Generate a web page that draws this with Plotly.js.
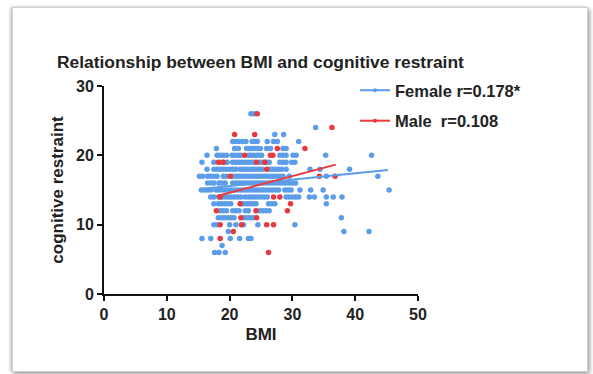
<!DOCTYPE html>
<html><head><meta charset="utf-8">
<script src="https://cdn.plot.ly/plotly-3.0.1.min.js"></script>
<style>
html,body{margin:0;padding:0;background:#fff;width:593px;height:374px;overflow:hidden;}
#card{position:absolute;left:12px;top:7px;width:574px;height:363px;border:1px solid #d0d0d0;box-shadow:2px 2px 4px rgba(0,0,0,0.35), -2px 0 3px rgba(0,0,0,0.2);background:#fff;}
#chart{position:absolute;left:0;top:0;width:593px;height:374px;}
</style></head>
<body>
<div id="card"></div>
<div id="chart"></div>
<script>
// Female points: BMI values grouped by cognitive restraint score
const femaleRows = {
  26: [23.4, 23.9],
  24: [33.7],
  23: [27.2, 28.6],
  22: [20.5, 21.0, 21.5, 22.1, 22.6, 23.6, 24.0, 24.4, 26.0, 27.0, 27.6, 31.0],
  21: [17.9, 20.8, 21.4, 22.7, 23.1, 23.5, 24.0, 24.4, 24.9, 25.9, 26.5, 28.5, 29.0],
  20: [16.4, 18.0, 18.5, 19.0, 19.5, 20.4, 20.9, 21.4, 21.8, 23.0, 23.4, 23.8, 24.3, 24.7, 25.1, 28.0, 28.5, 29.0, 30.1, 30.6, 35.3, 42.6],
  19: [15.6, 17.5, 18.5, 19.0, 19.6, 20.5, 21.0, 21.5, 22.0, 22.5, 23.0, 23.5, 24.0, 24.8, 25.3, 25.8, 26.3, 28.0, 28.5, 29.0, 29.9, 30.4],
  18: [16.4, 17.5, 18.0, 18.5, 19.0, 19.5, 20.0, 20.5, 21.0, 21.7, 22.2, 22.7, 23.2, 23.7, 24.2, 24.7, 25.2, 26.3, 26.8, 27.3, 27.8, 28.3, 29.0, 32.8, 34.4, 39.1],
  17: [15.2, 15.7, 16.5, 17.0, 17.5, 18.0, 19.0, 19.5, 20.5, 21.0, 21.5, 22.0, 22.5, 23.0, 23.5, 24.0, 24.5, 25.0, 25.5, 26.0, 26.5, 27.0, 27.5, 28.0, 28.5, 29.5, 35.4, 43.6],
  16: [16.5, 17.0, 17.5, 18.3, 18.8, 19.3, 20.5, 21.0, 21.5, 22.0, 22.5, 23.0, 23.5, 24.0, 24.5, 25.0, 25.5, 26.0, 26.5, 27.0, 27.5, 28.0, 28.5, 29.0, 29.5, 30.0, 30.5],
  15: [15.5, 16.0, 16.5, 17.0, 17.8, 18.3, 18.8, 19.3, 19.8, 20.3, 20.8, 21.3, 21.8, 22.3, 22.8, 23.3, 23.8, 24.3, 24.8, 25.3, 25.8, 26.3, 26.8, 27.3, 27.8, 28.8, 29.3, 29.8, 31.2, 32.9, 34.9, 45.4],
  14: [17.0, 17.5, 18.3, 18.8, 19.3, 19.8, 20.3, 20.8, 21.3, 21.8, 22.5, 23.0, 23.5, 24.0, 24.5, 25.0, 25.5, 26.0, 29.0, 29.5, 30.0, 30.5, 31.0, 32.7, 33.5, 35.4, 36.5, 37.9],
  13: [17.5, 18.2, 18.7, 19.2, 19.7, 20.2, 21.7, 22.2, 22.7, 23.2, 23.7, 24.2, 26.2, 26.7, 27.2, 35.4],
  12: [18.5, 19.0, 19.5, 20.5, 21.0, 21.5, 22.5, 23.0, 24.8, 25.3, 25.8, 26.3],
  11: [18.2, 18.7, 19.2, 19.7, 20.2, 20.7, 22.3, 22.8, 23.3, 23.8, 37.8],
  10: [17.5, 18.0, 20.0, 21.0, 22.2, 24.5, 30.4],
  9: [19.8, 38.2, 42.2],
  8: [15.6, 17.0, 20.1, 21.6, 23.0, 23.4],
  7: [18.8],
  6: [17.6, 18.3, 19.3]
};
// Male points
const maleRows = {
  26: [24.4],
  24: [36.3],
  23: [20.8, 24.0],
  21: [27.6, 32.0],
  20: [22.4, 26.5, 26.9],
  19: [18.2, 19.0, 24.3, 25.6],
  18: [25.9],
  17: [20.1, 34.3, 36.8],
  14: [18.5, 27.0, 28.0],
  13: [21.7, 29.7],
  12: [17.9, 24.2, 29.2],
  11: [21.8, 24.3],
  10: [18.5, 21.9, 25.9, 27.0],
  9: [20.6],
  8: [18.5],
  6: [26.2]
};
// Regression line end points
const femaleFitX = [15.4, 45.2];
const femaleFitY = [15.15, 17.9];
const maleFitX = [17.9, 36.9];
const maleFitY = [14.1, 18.66];

const xTicks = [0, 10, 20, 30, 40, 50];
const yTicks = [0, 10, 20, 30];

function flatten(rows){
  const xs=[], ys=[];
  Object.keys(rows).forEach(k=>{ rows[k].forEach(v=>{ xs.push(v); ys.push(Number(k)); }); });
  return {xs, ys};
}
const f = flatten(femaleRows), m = flatten(maleRows);
const BLUE = '#5b9de9', RED = '#e8393e';

const traces = [
  {x:f.xs, y:f.ys, type:'scatter', mode:'markers', marker:{color:BLUE, size:5.5}, showlegend:false, hoverinfo:'x+y'},
  {x:m.xs, y:m.ys, type:'scatter', mode:'markers', marker:{color:RED, size:5.5}, showlegend:false, hoverinfo:'x+y'},
  {x:femaleFitX, y:femaleFitY, type:'scatter', mode:'lines', line:{color:BLUE, width:2}, showlegend:false},
  {x:maleFitX, y:maleFitY, type:'scatter', mode:'lines', line:{color:RED, width:2}, showlegend:false},
  {x:[null], y:[null], type:'scatter', mode:'lines+markers', name:'Female r=0.178*', legendgroup:'f', line:{color:BLUE, width:2}, marker:{color:BLUE, size:4}},
  {x:[null], y:[null], type:'scatter', mode:'lines+markers', name:'Male  r=0.108', legendgroup:'m', line:{color:RED, width:2}, marker:{color:RED, size:4}}
];

const axisFont = {family:'Liberation Sans, Arial, sans-serif', size:16, color:'#222', weight:'bold'};
const layout = {
  width:593, height:374,
  margin:{l:104, r:175, t:86, b:80},
  paper_bgcolor:'rgba(0,0,0,0)', plot_bgcolor:'rgba(0,0,0,0)',
  font:{family:'Liberation Sans, Arial, sans-serif', color:'#222'},
  title:{text:'<b>Relationship between BMI and cognitive restraint</b>', x:57/593, xanchor:'left', y:1-62/374, yanchor:'middle', font:{size:17.4, color:'#222'}},
  xaxis:{range:[0,50], tickvals:xTicks, ticktext:xTicks.map(String), showgrid:false, zeroline:false, showline:true, linecolor:'#111', linewidth:2, ticks:'outside', ticklen:5, tickwidth:2, tickcolor:'#111', tickfont:axisFont,
    title:{text:'<b>BMI</b>', font:{size:17, color:'#222'}, standoff:6}},
  yaxis:{range:[0,30], tickvals:yTicks, ticktext:yTicks.map(String), showgrid:false, zeroline:false, showline:true, linecolor:'#111', linewidth:2, ticks:'outside', ticklen:5, tickwidth:2, tickcolor:'#111', tickfont:axisFont,
    title:{text:'<b>cognitive restraint</b>', font:{size:17, color:'#222'}, standoff:8}},
  legend:{x:(355-104)/314, xanchor:'left', y:1+(86-73)/208, yanchor:'top', bgcolor:'rgba(0,0,0,0)', font:{size:16.5, color:'#222', weight:'bold'}, traceorder:'grouped', tracegroupgap:6, itemwidth:30},
  showlegend:true
};
Plotly.newPlot('chart', traces, layout, {displayModeBar:false, staticPlot:true});
</script>
</body></html>
